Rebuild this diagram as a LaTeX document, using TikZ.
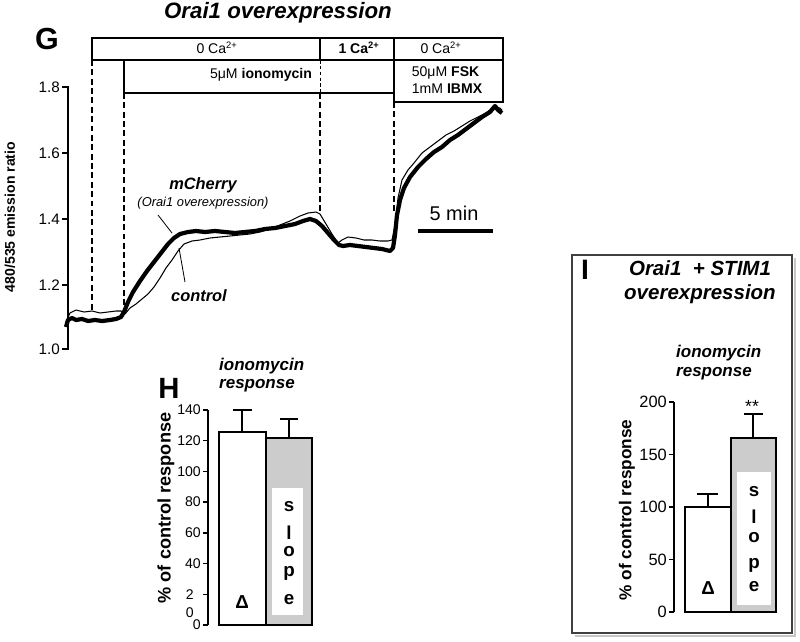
\documentclass[tikz,border=0pt]{standalone}
\usepackage{fontspec}
\setmainfont{Liberation Sans}
\usetikzlibrary{positioning}
\newcommand{\fsz}[1]{\fontsize{#1}{#1}\selectfont}
\tikzset{
txt/.style={inner sep=0pt, font=\fsz{12}},
panel/.style={inner sep=0pt, font=\fsz{25}\bfseries},
ttl/.style={inner sep=0pt, align=left, font=\fsz{14.5}\bfseries\itshape},
tick/.style={inner sep=0pt, anchor=east},
ylab/.style={inner sep=0pt, rotate=90, font=\bfseries},
axis/.style={line width=1.1pt},
frame/.style={line width=1.5pt},
bar/.style={line width=2.4pt, line join=miter},
marker/.style={dashed, line width=1.6pt, dash pattern=on 5pt off 3pt},
pointer/.style={line width=0.7pt},
letter/.style={inner sep=0pt, font=\fsz{16}\bfseries}
}

\begin{document}
\begin{tikzpicture}[x=0.03cm, y=-0.03cm, line cap=butt]
\useasboundingbox (0,0) rectangle (800,642);

% panel G: protocol
\node[panel, font=\fsz{26}\bfseries]	(G)	at (47,39)		{G};
\node[inner sep=0pt, font=\fsz{19}\bfseries\itshape]	(titleG)	at (278,13)	{Orai1 overexpression};

\draw[frame] (92,38) rectangle (320,60);
\draw[frame] (320,38) rectangle (394,60);
\draw[frame] (394,38) rectangle (503,60);
\draw[frame] (124,60) rectangle (394,93);
\draw[frame] (394,60) rectangle (503,102);
\node[txt]	(zeroCa)		at (217,48)	{0 Ca\textsuperscript{2+}};
\node[txt, font=\fsz{12}\bfseries]	(oneCa)	at (359,48)	{1 Ca\textsuperscript{2+}};
\node[txt]	(zeroCaB)	at (441,48)	{0 Ca\textsuperscript{2+}};
\node[txt]	(iono)		at (261,75)	{5μM \textbf{ionomycin}};
\node[txt, align=left]	(fsk)	at (447,80)	{50μM \textbf{FSK}\\[2pt]1mM \textbf{IBMX}};

\draw[marker] (92,60) -- (92,311);
\draw[marker] (124,93) -- (124,313);
\draw[dashed, line width=0.6pt, dash pattern=on 3pt off 2pt] (320,60) -- (320,93);
\draw[marker] (320,93) -- (320,212);
\draw[marker] (394,102) -- (394,213);

% panel G: axis
\draw[axis] (68,86) -- (68,350);
\foreach \v/\y [count=\i] in {1.0/349,1.2/285,1.4/219,1.6/153,1.8/87}{
  \draw[axis] (62,\y) -- (68,\y);
  \node[tick, font=\fsz{13}] (gt\i) at (60,\y) {\v};
}
\node[ylab, font=\fsz{12}\bfseries] (ylabG) at (10,217) {480/535 emission ratio};

% traces
\draw[line width=0.9pt, line join=round] plot coordinates {
(66,322) (70,313) (76,310) (84,312) (92,311) (100,313) (108,312) (116,311) (121,311) (125,314)
(130,308) (136,304) (142,299) (148,294) (154,287) (160,278) (166,268) (172,260) (178,251) (184,244)
(192,241) (200,240) (210,238) (220,237) (230,236) (240,235) (250,234) (260,232) (270,229) (280,225)
(290,221) (300,216) (308,213) (316,212) (320,214) (326,224) (332,234) (338,243) (342,240) (348,237)
(356,238) (364,240) (372,240) (380,241) (388,241) (392,240) (395,225) (398,198) (402,180) (408,170)
(414,163) (422,153) (430,147) (438,141) (446,135) (454,131) (462,126) (470,121) (478,117) (486,113)
(494,107) (500,108) (502,110)};
\draw[line width=3.6pt, line join=round] plot coordinates {
(66,327) (68,320) (72,318) (76,320) (82,319) (88,321) (95,320) (102,321) (110,320) (116,319)
(121,317) (124,312) (128,302) (133,292) (140,281) (147,271) (154,262) (161,253) (168,244) (174,238)
(180,234) (188,232) (196,231) (205,232) (215,231) (225,232) (235,233) (245,232) (255,231) (265,229)
(275,228) (285,226) (295,224) (303,221) (310,219) (316,221) (322,226) (328,233) (334,240) (339,245)
(343,246) (350,245) (358,246) (366,247) (374,248) (382,249) (390,251) (393,248) (395,235) (397,215)
(400,200) (404,188) (410,177) (418,167) (426,159) (434,152) (442,147) (450,140) (458,135) (466,129)
(474,123) (482,117) (490,112) (495,106) (498,110) (502,113)};

\node[inner sep=0pt, font=\fsz{14}\bfseries\itshape]	(mcLbl)	at (203,185)	{mCherry};
\node[inner sep=0pt, font=\fsz{11}\itshape]	(mcSub)	at (203,203)	{(Orai1 overexpression)};
\node[inner sep=0pt, font=\fsz{14}\bfseries\itshape]	(ctlLbl)	at (199,296)	{control};
\coordinate (mcFoot) at (158,215);
\coordinate (mcTip) at (172,233);
\coordinate (ctlFoot) at (185,282);
\coordinate (ctlTip) at (179,248);
\draw[pointer] (mcFoot) -- (mcTip);
\draw[pointer] (ctlFoot) -- (ctlTip);

\node[inner sep=0pt, font=\fsz{17}]	(scaleLbl)	at (454,213)	{5 min};
\coordinate (scaleL) at (418,231);
\coordinate (scaleR) at (493,231);
\draw[line width=3pt] (scaleL) -- (scaleR);

% panel H
\node[panel]	(H)	at (169,388)	{H};
\node[ttl, anchor=west]	(ionoH)	at (219,366)	{ionomycin};
\node[ttl, anchor=west]	(respH)	at (219,386)	{response};
\draw[axis] (208,410) -- (208,625);
\foreach \v/\y [count=\i] in {140/410,120/440.7,100/471.4,80/502.1,60/532.9,40/563.6,0/625}{
  \draw[axis] (203,\y) -- (208,\y);
  \node[tick, font=\fsz{12}] (ht\i) at (201,\y) {\v};
}
\draw[axis] (203,594.3) -- (208,594.3);
\node[tick, font=\fsz{12}] (htTwo) at (194,595) {2};
\node[tick, font=\fsz{12}] (htZero) at (194,613) {0};
\node[ylab, font=\fsz{15.5}\bfseries] (ylabH) at (166,508) {\% of control response};

\draw[bar, fill=white] (219,432) rectangle (266,625);
\draw[bar] (242,432) -- (242,410);
\draw[bar] (233,410) -- (252,410);
\draw[bar, fill=gray!40] (266,438) rectangle (312,625);
\fill[white] (272,488) rectangle (303,615);
\draw[bar] (289,438) -- (289,419);
\draw[bar] (280,419) -- (298,419);
\node[letter] (hDelta) at (242,602) {Δ};
\foreach \c/\y [count=\i] in {s/507,l/533,o/552,p/573,e/600}{
  \node[letter] (hs\i) at (289,\y) {\c};
}

% panel I
\draw[gray!45, line width=2pt] (575,636) -- (795,636) -- (795,258);
\draw[black!75, line width=1.5pt] (572,255) rectangle (792,633);
\node[panel, font=\fsz{24}\bfseries]	(I)	at (585,270)	{I};
\node[inner sep=0pt, align=center, font=\fontsize{17.5}{20}\selectfont\bfseries\itshape]	(titleI)	at (700,282)	{Orai1\ \ + STIM1\\overexpression};
\node[ttl, anchor=west]	(ionoI)	at (676,353)	{ionomycin};
\node[ttl, anchor=west]	(respI)	at (676,374)	{response};
\draw[axis] (674,402) -- (674,612);
\foreach \v/\y [count=\i] in {200/402,150/454.5,100/507,50/559.5,0/612}{
  \draw[axis] (669,\y) -- (674,\y);
  \node[tick, font=\fsz{14}] (it\i) at (667,\y) {\v};
}
\node[ylab, font=\fsz{14.7}\bfseries] (ylabI) at (627,510) {\% of control response};

\draw[bar, fill=white] (685,507) rectangle (731,612);
\draw[bar] (708,507) -- (708,494);
\draw[bar] (697,494) -- (718,494);
\draw[bar, fill=gray!40] (731,438) rectangle (776,612);
\fill[white] (737,472) rectangle (771,605);
\draw[bar] (753,438) -- (753,414);
\draw[bar] (744,414) -- (763,414);
\node[inner sep=0pt, font=\fsz{15}] (stars) at (752,406) {**};
\node[letter] (iDelta) at (708,588) {Δ};
\foreach \c/\y [count=\i] in {s/492,l/517,o/538,p/565,e/587}{
  \node[letter] (is\i) at (754,\y) {\c};
}
\end{tikzpicture}
\end{document}
